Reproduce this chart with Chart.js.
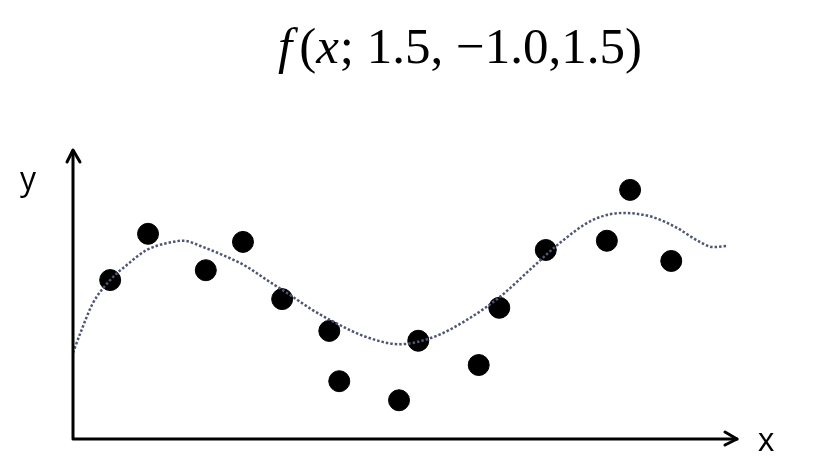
<!DOCTYPE html>
<html lang="en">

<head>
  <meta charset="UTF-8">
  <title>f(x; 1.5, -1.0, 1.5)</title>
  <style>
    body { margin: 0; background: #fff; }
    #wrap { width: 820px; height: 467px; }
  </style>
</head>

<body>
  <div id="wrap">
    <canvas id="chart" width="820" height="467"></canvas>
  </div>

  <script src="https://cdn.jsdelivr.net/npm/chart.js"></script>
  <script>
    // fitted curve (x 0..10, y 0..5)
    const curveX = [0, 0.11, 0.30, 0.56, 0.81, 1.11, 1.42, 1.66, 1.96, 2.32, 2.62, 2.92, 3.22, 3.61, 3.87,
      4.43, 4.92, 5.42, 5.93, 6.43, 6.93, 7.33, 7.83, 8.28, 8.73, 9.10, 9.44, 9.64, 9.85];
    const curveY = [1.49, 1.83, 2.35, 2.75, 3.01, 3.27, 3.39, 3.43, 3.32, 3.15, 2.98, 2.75, 2.53, 2.23, 2.06,
      1.76, 1.64, 1.76, 2.06, 2.46, 2.98, 3.39, 3.79, 3.91, 3.84, 3.65, 3.41, 3.32, 3.34];

    // observed samples
    const pointX = [0.56, 1.13, 2.00, 2.56, 3.15, 3.86, 4.01, 4.91, 5.20, 6.11, 6.42, 7.12, 8.04, 8.39, 9.01];
    const pointY = [2.75, 3.55, 2.92, 3.41, 2.42, 1.87, 1.00, 0.67, 1.70, 1.28, 2.27, 3.27, 3.43, 4.31, 3.08];

    const titleParts = [
      { text: 'f', italic: true, after: 7 },
      { text: '(', italic: false, after: 0 },
      { text: 'x', italic: true, after: 1 },
      { text: '; 1.5, \u22121.0,1.5)', italic: false, after: 0 },
    ];
    const xLabel = 'x';
    const yLabel = 'y';

    // axes with arrow heads, axis letters and the title
    const decorations = {
      id: 'decorations',
      afterDraw(chart) {
        const ctx = chart.ctx;
        const area = chart.chartArea;
        ctx.save();

        ctx.strokeStyle = '#000';
        ctx.lineWidth = 3;
        ctx.lineCap = 'round';
        ctx.lineJoin = 'round';
        ctx.beginPath();
        ctx.moveTo(area.left, area.top + 1);
        ctx.lineTo(area.left, area.bottom);
        ctx.lineTo(area.right, area.bottom);
        ctx.stroke();

        ctx.beginPath();
        ctx.moveTo(area.left - 6, area.top + 12);
        ctx.lineTo(area.left, area.top);
        ctx.lineTo(area.left + 7, area.top + 12);
        ctx.moveTo(area.right - 12, area.bottom - 7);
        ctx.lineTo(area.right, area.bottom);
        ctx.lineTo(area.right - 12, area.bottom + 6);
        ctx.stroke();

        ctx.fillStyle = '#000';
        ctx.font = '32px "Open Sans", sans-serif';
        ctx.textAlign = 'center';
        ctx.textBaseline = 'alphabetic';
        ctx.fillText(yLabel, 28, 190);
        ctx.fillText(xLabel, 766, 451);

        // title, in pieces so f and x can be italic
        const size = 51;
        const fontFor = p => (p.italic ? 'italic ' : '') + size + 'px "Liberation Serif", "DejaVu Serif", serif';
        let total = 0;
        titleParts.forEach(p => {
          ctx.font = fontFor(p);
          total += ctx.measureText(p.text).width + p.after;
        });
        let x = 460 - total / 2;
        ctx.textAlign = 'left';
        titleParts.forEach(p => {
          ctx.font = fontFor(p);
          ctx.fillText(p.text, x, 63);
          x += ctx.measureText(p.text).width + p.after;
        });

        ctx.restore();
      }
    };

    const chart = new Chart(document.getElementById('chart'), {
      type: 'scatter',
      data: {
        datasets: [
          {
            label: 'fit',
            data: curveX.map((x, i) => ({ x: x, y: curveY[i] })),
            showLine: true,
            borderColor: '#4f5675',
            borderWidth: 2.5,
            borderDash: [2.5, 2],
            borderCapStyle: 'butt',
            cubicInterpolationMode: 'monotone',
            pointRadius: 0,
            fill: false,
          },
          {
            label: 'samples',
            data: pointX.map((x, i) => ({ x: x, y: pointY[i] })),
            backgroundColor: '#000',
            borderColor: '#000',
            pointRadius: 10.5,
            pointHoverRadius: 10.5,
            showLine: false,
          },
        ],
      },
      options: {
        responsive: false,
        animation: false,
        clip: false,
        layout: {
          padding: { left: 73, right: 83, top: 150, bottom: 28 },
        },
        plugins: {
          legend: { display: false },
          tooltip: { enabled: false },
          title: { display: false },
        },
        scales: {
          x: { type: 'linear', min: 0, max: 10, display: false },
          y: { type: 'linear', min: 0, max: 5, display: false },
        },
      },
      plugins: [decorations],
    });
  </script>
</body>

</html>
